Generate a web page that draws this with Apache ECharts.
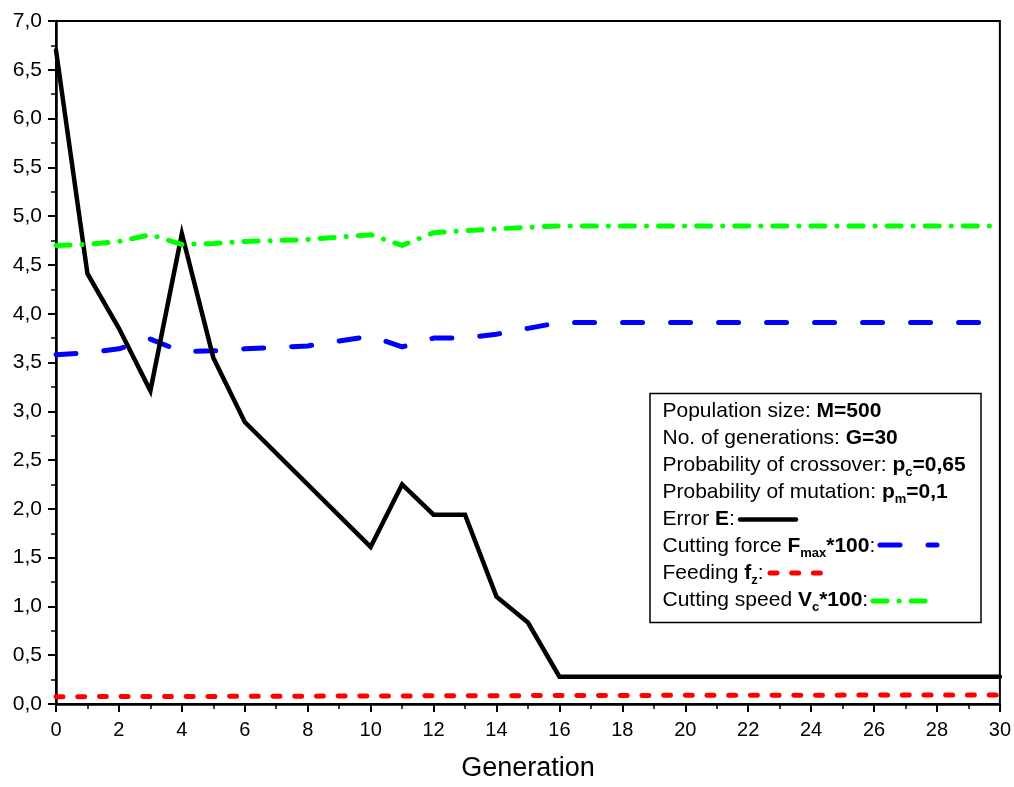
<!DOCTYPE html>
<html>
<head>
<meta charset="utf-8">
<script src="https://cdn.jsdelivr.net/npm/echarts@6/dist/echarts.min.js"></script>
<style>
html,body{margin:0;padding:0;background:#fff;}
#chart{width:1014px;height:787px;}
</style>
</head>
<body>
<div id="chart"></div>
<script>
// ---- data ----
var genError = [0, 1, 2, 3, 4, 5, 6, 10, 11, 12, 13, 14, 15, 16, 30];
var errorE   = [6.70, 4.41, 3.85, 3.21, 4.82, 3.55, 2.89, 1.61, 2.25, 1.94, 1.94, 1.10, 0.835, 0.28, 0.28];

var genForce = [0, 1, 2, 3, 4, 5, 6, 8, 10, 11, 12, 13, 14, 15, 16, 30];
var forceF   = [3.58, 3.60, 3.64, 3.74, 3.61, 3.62, 3.64, 3.67, 3.77, 3.66, 3.75, 3.75, 3.79, 3.85, 3.91, 3.91];

var genFeed  = [0, 5, 10, 15, 20, 25, 30];
var feedF    = [0.075, 0.078, 0.082, 0.086, 0.089, 0.091, 0.092];

var genSpeed = [0, 1, 2, 3, 4, 5, 6, 8, 10, 11, 12, 13, 14, 15, 16, 30];
var speedV   = [4.70, 4.71, 4.74, 4.81, 4.71, 4.72, 4.74, 4.76, 4.81, 4.70, 4.83, 4.85, 4.87, 4.885, 4.90, 4.90];

var xAxisTitle = 'Generation';
var legendLines = [
  '{n|Population size: }{b|M=500}',
  '{n|No. of generations: }{b|G=30}',
  '{n|Probability of crossover: }{b|p}{s|c}{b|=0,65}',
  '{n|Probability of mutation: }{b|p}{s|m}{b|=0,1}',
  '{n|Error }{b|E}{n|:}',
  '{n|Cutting force }{b|F}{s|max}{b|*100}{n|:}',
  '{n|Feeding }{b|f}{s|z}{n|:}',
  '{n|Cutting speed }{b|V}{s|c}{b|*100}{n|:}'
];

function pairs(xs, ys) { return xs.map(function (x, i) { return [x, ys[i]]; }); }

var FONT = 'Liberation Sans, Arial, sans-serif';
var styleE = { color: '#000000', width: 4.5, type: 'solid', cap: 'round', join: 'miter' };
var styleF = { color: '#0000ff', width: 5, type: [20, 28], cap: 'round', join: 'round' };
var styleZ = { color: '#ff0000', width: 5, type: [7, 14.7], cap: 'round', join: 'round' };
var styleV = { color: '#00ff00', width: 5, type: [14, 12, 0.1, 12], cap: 'round', join: 'round' };

function sample(x1, x2, y, st) {
  return {
    type: 'line', z: 100,
    shape: { x1: x1, y1: y, x2: x2, y2: y },
    style: { stroke: st.color, lineWidth: st.width, lineDash: st.type === 'solid' ? null : st.type, lineCap: 'round' }
  };
}

var chart = echarts.init(document.getElementById('chart'), null, { renderer: 'canvas' });
chart.setOption({
  animation: false,
  backgroundColor: '#ffffff',
  grid: { left: 56, right: 13.5, top: 21, bottom: 75.3, show: true, borderColor: '#000', borderWidth: 2, containLabel: false },
  xAxis: {
    type: 'value', min: 0, max: 30, interval: 2,
    name: xAxisTitle, nameLocation: 'middle', nameGap: 51,
    nameTextStyle: { fontSize: 27, fontFamily: FONT, color: '#000' },
    axisLine: { show: true, lineStyle: { color: '#000', width: 2.5 } },
    axisTick: { show: true, inside: false, length: 8, lineStyle: { color: '#000', width: 2 } },
    minorTick: { show: true, splitNumber: 2, length: 5, lineStyle: { color: '#000', width: 1.5 } },
    axisLabel: { fontSize: 20, fontFamily: FONT, color: '#000', margin: 16 },
    splitLine: { show: false }
  },
  yAxis: {
    type: 'value', min: 0, max: 7, interval: 0.5,
    axisLine: { show: true, lineStyle: { color: '#000', width: 2.5 } },
    axisTick: { show: true, inside: false, length: 8, lineStyle: { color: '#000', width: 2 } },
    minorTick: { show: true, splitNumber: 2, length: 5, lineStyle: { color: '#000', width: 1.5 } },
    axisLabel: { fontSize: 21, fontFamily: FONT, color: '#000', margin: 14,
      formatter: function (v) { return v.toFixed(1).replace('.', ','); } },
    splitLine: { show: false }
  },
  series: [
    { name: 'Error E', type: 'line', data: pairs(genError, errorE), showSymbol: false, lineStyle: styleE, z: 4 },
    { name: 'Cutting force', type: 'line', data: pairs(genForce, forceF), showSymbol: false, lineStyle: styleF, z: 3 },
    { name: 'Feeding', type: 'line', data: pairs(genFeed, feedF), showSymbol: false, lineStyle: styleZ, z: 3 },
    { name: 'Cutting speed', type: 'line', data: pairs(genSpeed, speedV), showSymbol: false, lineStyle: styleV, z: 5 }
  ],
  graphic: [
    { type: 'rect', z: 90, shape: { x: 650, y: 393.5, width: 331, height: 229 },
      style: { fill: '#fff', stroke: '#000', lineWidth: 1.5 } },
    { type: 'text', z: 95, x: 662.5, y: 398,
      style: {
        text: legendLines.join('\n'),
        fontFamily: FONT, fontSize: 21, lineHeight: 27, fill: '#000', verticalAlign: 'top',
        rich: {
          n: { fontSize: 21, fontFamily: FONT, lineHeight: 27, fill: '#000' },
          b: { fontSize: 21, fontFamily: FONT, fontWeight: 'bold', lineHeight: 27, fill: '#000' },
          s: { fontSize: 13, fontFamily: FONT, fontWeight: 'bold', lineHeight: 11, verticalAlign: 'bottom', fill: '#000' }
        }
      } },
    sample(740, 796, 519.5, styleE),
    sample(880, 937, 545, styleF),
    sample(770, 823, 573, styleZ),
    sample(873, 929, 601, styleV)
  ]
});
</script>
</body>
</html>
